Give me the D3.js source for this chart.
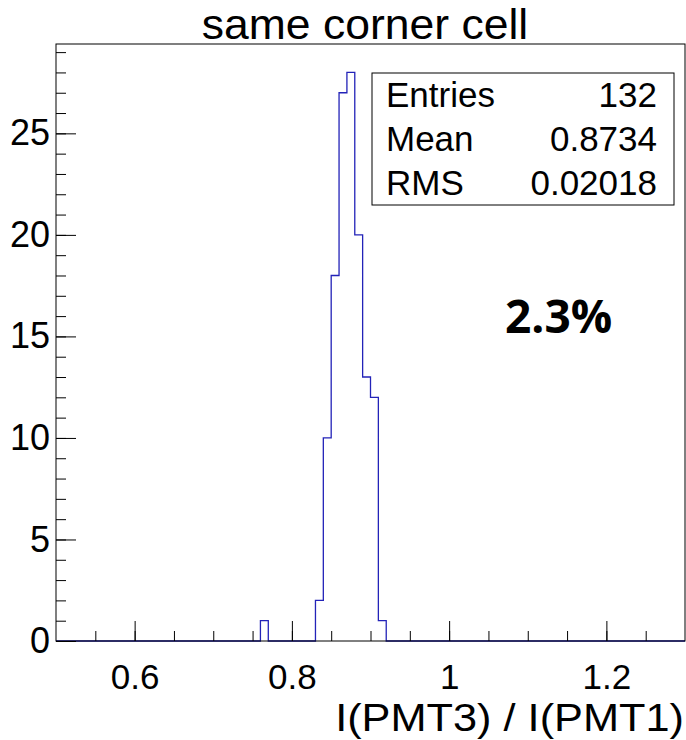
<!DOCTYPE html>
<html>
<head>
<meta charset="utf-8">
<script src="https://cdn.jsdelivr.net/npm/d3@7"></script>
<style>
  body { margin: 0; background: #fff; }
  text { font-family: "Liberation Sans", Arial, sans-serif; fill: #000; }
</style>
</head>
<body>
<svg id="chart" width="686" height="740"></svg>
<script>
// Histogram content (bins of 0.01 between 0.5 and 1.3, only non-empty bins listed)
const binStarts = [0.76, 0.83, 0.84, 0.85, 0.86, 0.87, 0.88, 0.89, 0.90, 0.91]
const binCounts = [1, 2, 10, 18, 27, 28, 20, 13, 12, 1]
const binWidth = 0.01
const xRange = [0.5, 1.3]
const yRange = [0, 29.4]

// Axis ticks
const xMajor = [0.6, 0.8, 1, 1.2]
const xMinor = d3.range(0.55, 1.3, 0.05)
const yMajor = [0, 5, 10, 15, 20, 25]
const yMinor = d3.range(0, 30, 1)

// Stats box rows
const statNames = ['Entries', 'Mean', 'RMS']
const statValues = ['132', '0.8734', '0.02018']

const title = 'same corner cell'
const xTitle = 'I(PMT3) / I(PMT1)'
const note = '2.3%'

const frame = { left: 56, right: 685, top: 44, bottom: 641 }
const svg = d3.select('#chart')

const x = d3.scaleLinear().domain(xRange).range([frame.left, frame.right])
const y = d3.scaleLinear().domain(yRange).range([frame.bottom, frame.top])

// Build the full list of bins so the outline runs along zero between entries
const nBins = Math.round((xRange[1] - xRange[0]) / binWidth)
const allBins = d3.range(nBins).map(i => {
  const lo = xRange[0] + i * binWidth
  const k = binStarts.findIndex(s => Math.abs(s - lo) < 1e-6)
  return { lo: lo, hi: lo + binWidth, n: k >= 0 ? binCounts[k] : 0 }
})

// Histogram outline
const line = d3.line().x(d => x(d[0])).y(d => y(d[1]))
const pts = [[xRange[0], 0]]
allBins.forEach(b => {
  pts.push([b.lo, b.n])
  pts.push([b.hi, b.n])
})
pts.push([xRange[1], 0])

svg.append('path')
  .attr('d', line(pts))
  .attr('fill', 'none')
  .attr('stroke', '#2323b8')
  .attr('stroke-width', 1.3)

// X axis: minor then major ticks, pointing inwards
const gx = svg.append('g').attr('transform', `translate(0,${frame.bottom})`)
gx.append('g')
  .call(d3.axisBottom(x).tickValues(xMinor).tickSize(-10).tickSizeOuter(0).tickFormat(''))
gx.append('g')
  .call(d3.axisBottom(x).tickValues(xMajor).tickSize(-20).tickSizeOuter(0).tickPadding(23)
    .tickFormat(d => d3.format('~g')(d)))
gx.selectAll('text').style('font-size', '35px').attr('font-family', null)

// Y axis
const gy = svg.append('g').attr('transform', `translate(${frame.left},0)`)
gy.append('g')
  .call(d3.axisLeft(y).tickValues(yMinor).tickSize(-10).tickSizeOuter(0).tickFormat(''))
gy.append('g')
  .call(d3.axisLeft(y).tickValues(yMajor).tickSize(-20).tickSizeOuter(0).tickPadding(6))
gy.selectAll('text').style('font-size', '36px').attr('font-family', null)

svg.selectAll('.tick line').attr('stroke', '#000')
svg.selectAll('.domain').remove()

// Frame
svg.append('rect')
  .attr('x', frame.left)
  .attr('y', frame.top)
  .attr('width', frame.right - frame.left)
  .attr('height', frame.bottom - frame.top)
  .attr('fill', 'none')
  .attr('stroke', '#000')

// Title (ROOT text is a little wider than Liberation Sans)
svg.append('text')
  .attr('transform', 'translate(365,39) scale(1.06,1)')
  .attr('text-anchor', 'middle')
  .style('font-size', '42px')
  .text(title)

// X axis title
svg.append('text')
  .attr('transform', `translate(${frame.right - 1},731) scale(1.14,1)`)
  .attr('text-anchor', 'end')
  .style('font-size', '38px')
  .text(xTitle)

// Stats box
const box = { left: 372, right: 674, top: 73, bottom: 205 }
svg.append('rect')
  .attr('x', box.left)
  .attr('y', box.top)
  .attr('width', box.right - box.left)
  .attr('height', box.bottom - box.top)
  .attr('fill', '#fff')
  .attr('stroke', '#000')

const rowH = (box.bottom - box.top) / statNames.length
statNames.forEach((name, i) => {
  const base = box.top + rowH * (i + 0.5) + 12
  svg.append('text')
    .attr('x', box.left + 14)
    .attr('y', base)
    .style('font-size', '35px')
    .text(name)
  svg.append('text')
    .attr('x', box.right - 17)
    .attr('y', base)
    .attr('text-anchor', 'end')
    .style('font-size', '35px')
    .text(statValues[i])
})

// Annotation
svg.append('text')
  .attr('x', 505)
  .attr('y', 333)
  .style('font-family', '"Open Sans", "Noto Sans", sans-serif')
  .style('font-weight', 'bold')
  .style('font-size', '46px')
  .text(note)
</script>
</body>
</html>
